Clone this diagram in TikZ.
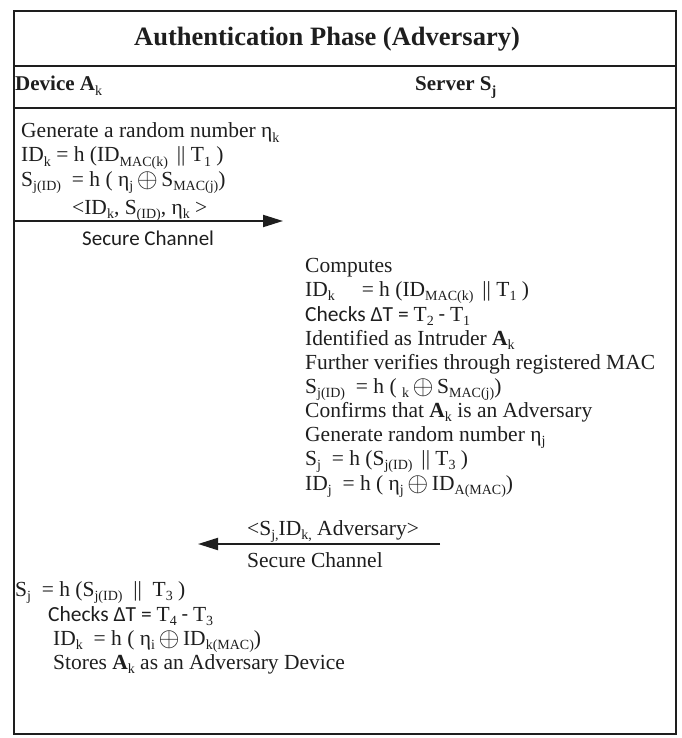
\documentclass[tikz,border=0pt]{standalone}
\usepackage{fontspec}
\setmainfont{Liberation Serif}
\newfontfamily\calib{Carlito}
\usetikzlibrary{arrows.meta}
% word-processor style subscript: smaller, only slightly lowered
\newcommand\sbs[1]{\raisebox{-0.22em}{\fontsize{14}{14}\selectfont #1}}
\newcommand\xor{\,\raisebox{-0.12ex}{\scalebox{1.3}{$\oplus$}}\,}
\definecolor{ink}{HTML}{1E1E1E}
\begin{document}
\begin{tikzpicture}[x=1pt,y=-1pt,
  txt/.style={anchor=base west, inner sep=0pt, text=ink,
              font=\fontsize{21.5}{24}\selectfont},
  head/.style={txt, font=\fontsize{21}{24}\selectfont\bfseries},
  title/.style={anchor=base, inner sep=0pt, text=ink,
                font=\fontsize{26.5}{28}\selectfont\bfseries},
  rule/.style={draw=ink, line width=2pt},
  frame/.style={draw=ink, line width=2.6pt},
  msg/.style={draw=ink, line width=2pt, -{Triangle[length=20pt,width=12pt]}}]
\useasboundingbox (0,0) rectangle (681,738);

% outer frame and header rules
\draw[frame] (14,11) rectangle (676,734);
\draw[rule] (14,66) -- (676,66);
\draw[rule] (14,108) -- (676,108);

% header
\node[title] (ttl) at (327,46) {Authentication Phase (Adversary)};
\node[head] (dev) at (15,91) {Device A\sbs{\mdseries k}};
\node[head] (srv) at (415,91) {Server S\sbs{j}};

% device: first step
\node[txt] (a1) at (21,138) {Generate a random number η\sbs{k}};
\node[txt] (a2) at (21,162) {ID\sbs{k} = h (ID\sbs{MAC(k)} \,|| T\sbs{1} )};
\node[txt] (a3) at (21,186) {S\sbs{j(ID)} \ = h ( η\sbs{j}\xor S\sbs{MAC(j)})};

% message to the server
\coordinate (m1s) at (15,221);
\coordinate (m1e) at (283,221);
\draw[msg] (m1s) -- (m1e);
\node[txt] (m1a) at (72,214) {<ID\sbs{k}, S\sbs{(ID)}, η\sbs{k} >};
\node[txt, font=\fontsize{21}{24}\selectfont\calib] (m1b) at (82,245) {Secure Channel};

% server side
\node[txt] (s1) at (305,272) {Computes};
\node[txt] (s2) at (305,296) {ID\sbs{k} \quad = h (ID\sbs{MAC(k)} \,|| T\sbs{1} )};
\node[txt] (s3) at (305,321) {{\calib Checks ΔT = }T\sbs{2}{\calib{} - }T\sbs{1}};
\node[txt] (s4) at (305,345) {Identified as Intruder \textbf{A}\sbs{k}};
\node[txt] (s5) at (305,369) {Further verifies through registered MAC};
\node[txt] (s6) at (305,393) {S\sbs{j(ID)} \ = h ( \sbs{k}\xor S\sbs{MAC(j)})};
\node[txt] (s7) at (305,417) {Confirms that \textbf{A}\sbs{k} is an Adversary};
\node[txt] (s8) at (305,441) {Generate random number η\sbs{j}};
\node[txt] (s9) at (305,465) {S\sbs{j} \ = h (S\sbs{j(ID)} \,|| T\sbs{3} )};
\node[txt] (s10) at (305,490) {ID\sbs{j} \ = h ( η\sbs{j}\xor ID\sbs{A(MAC)})};

% reply to the device
\coordinate (m2s) at (440,544);
\coordinate (m2e) at (198,544);
\draw[msg] (m2s) -- (m2e);
\node[txt] (m2a) at (247,535) {<S\sbs{j,}ID\sbs{k,} Adversary>};
\node[txt] (m2b) at (247,567) {Secure Channel};

% device: final step
\node[txt] (b1) at (15,596) {S\sbs{j} \ = h (S\sbs{j(ID)} \ || \ T\sbs{3} )};
\node[txt] (b2) at (48,621) {{\calib Checks ΔT = }T\sbs{4}{\calib{} - }T\sbs{3}};
\node[txt] (b3) at (53,645) {ID\sbs{k} \ = h ( η\sbs{i}\xor ID\sbs{k(MAC)})};
\node[txt] (b4) at (53,669) {Stores \textbf{A}\sbs{k} as an Adversary Device};
\end{tikzpicture}
\end{document}
